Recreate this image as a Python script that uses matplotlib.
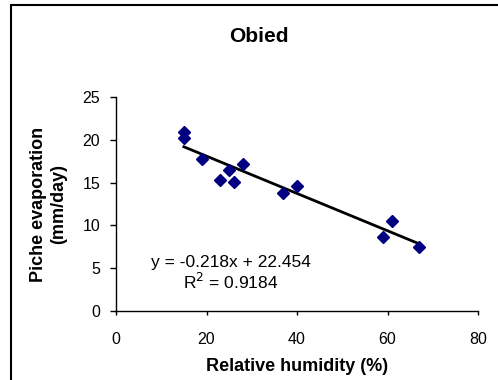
import numpy as np
import matplotlib.pyplot as plt
from matplotlib.patches import Rectangle

plt.rcParams['font.family'] = ['Liberation Sans', 'DejaVu Sans']

# data
humidity = [15, 15, 19, 23, 25, 26, 28, 37, 40, 59, 61, 67]
evaporation = [20.9, 20.2, 17.7, 15.3, 16.5, 15.1, 17.2, 13.8, 14.6, 8.7, 10.5, 7.5]

slope = -0.218
intercept = 22.454
r2 = 0.9184

x_ticks = [0, 20, 40, 60, 80]
y_ticks = [0, 5, 10, 15, 20, 25]


def main():
    fig = plt.figure(figsize=(4.98, 3.8), dpi=100)
    ax = fig.add_axes([116 / 498, 1 - 311 / 380, (478 - 116) / 498, (311 - 97) / 380])

    # outer chart border (cut off at right/bottom like the reference)
    fig.patches.append(Rectangle((11 / 498, -0.1), 1.1, 1.1 - 5 / 380,
                                 transform=fig.transFigure, fill=False,
                                 edgecolor='black', linewidth=1.5))

    ax.plot(humidity, evaporation, 'D', color='#000080', markersize=6, zorder=3)

    xs = np.array([min(humidity), max(humidity)])
    ax.plot(xs, slope * xs + intercept, color='black', linewidth=2, zorder=2)

    ax.text(25.3, 5.14, "y = %.3fx + %.3f" % (slope, intercept),
            ha='center', va='baseline', fontsize=12.5)
    ax.text(25.3, 2.57, "R$^2$ = %.4f" % r2,
            ha='center', va='baseline', fontsize=12.5)

    ax.set_xlim(0, 80)
    ax.set_ylim(0, 25)
    ax.set_xticks(x_ticks)
    ax.set_yticks(y_ticks)
    ax.tick_params(axis='x', direction='out', length=3, width=1, labelsize=11.5, pad=12)
    ax.tick_params(axis='y', direction='out', length=4.5, width=1, labelsize=11.5, pad=7)
    for s in ['top', 'right']:
        ax.spines[s].set_visible(False)
    for s in ['left', 'bottom']:
        ax.spines[s].set_linewidth(1)

    ax.set_xlabel("Relative humidity (%)", fontsize=13, fontweight='bold', labelpad=8)
    ax.set_ylabel("Piche evaporation\n(mm/day)", fontsize=13, fontweight='bold', labelpad=11)
    fig.text(259 / 498, 1 - 42 / 380, "Obied", ha='center', va='baseline',
             fontsize=15, fontweight='bold')

    fig.savefig("out.png", dpi=100)


if __name__ == "__main__":
    main()
